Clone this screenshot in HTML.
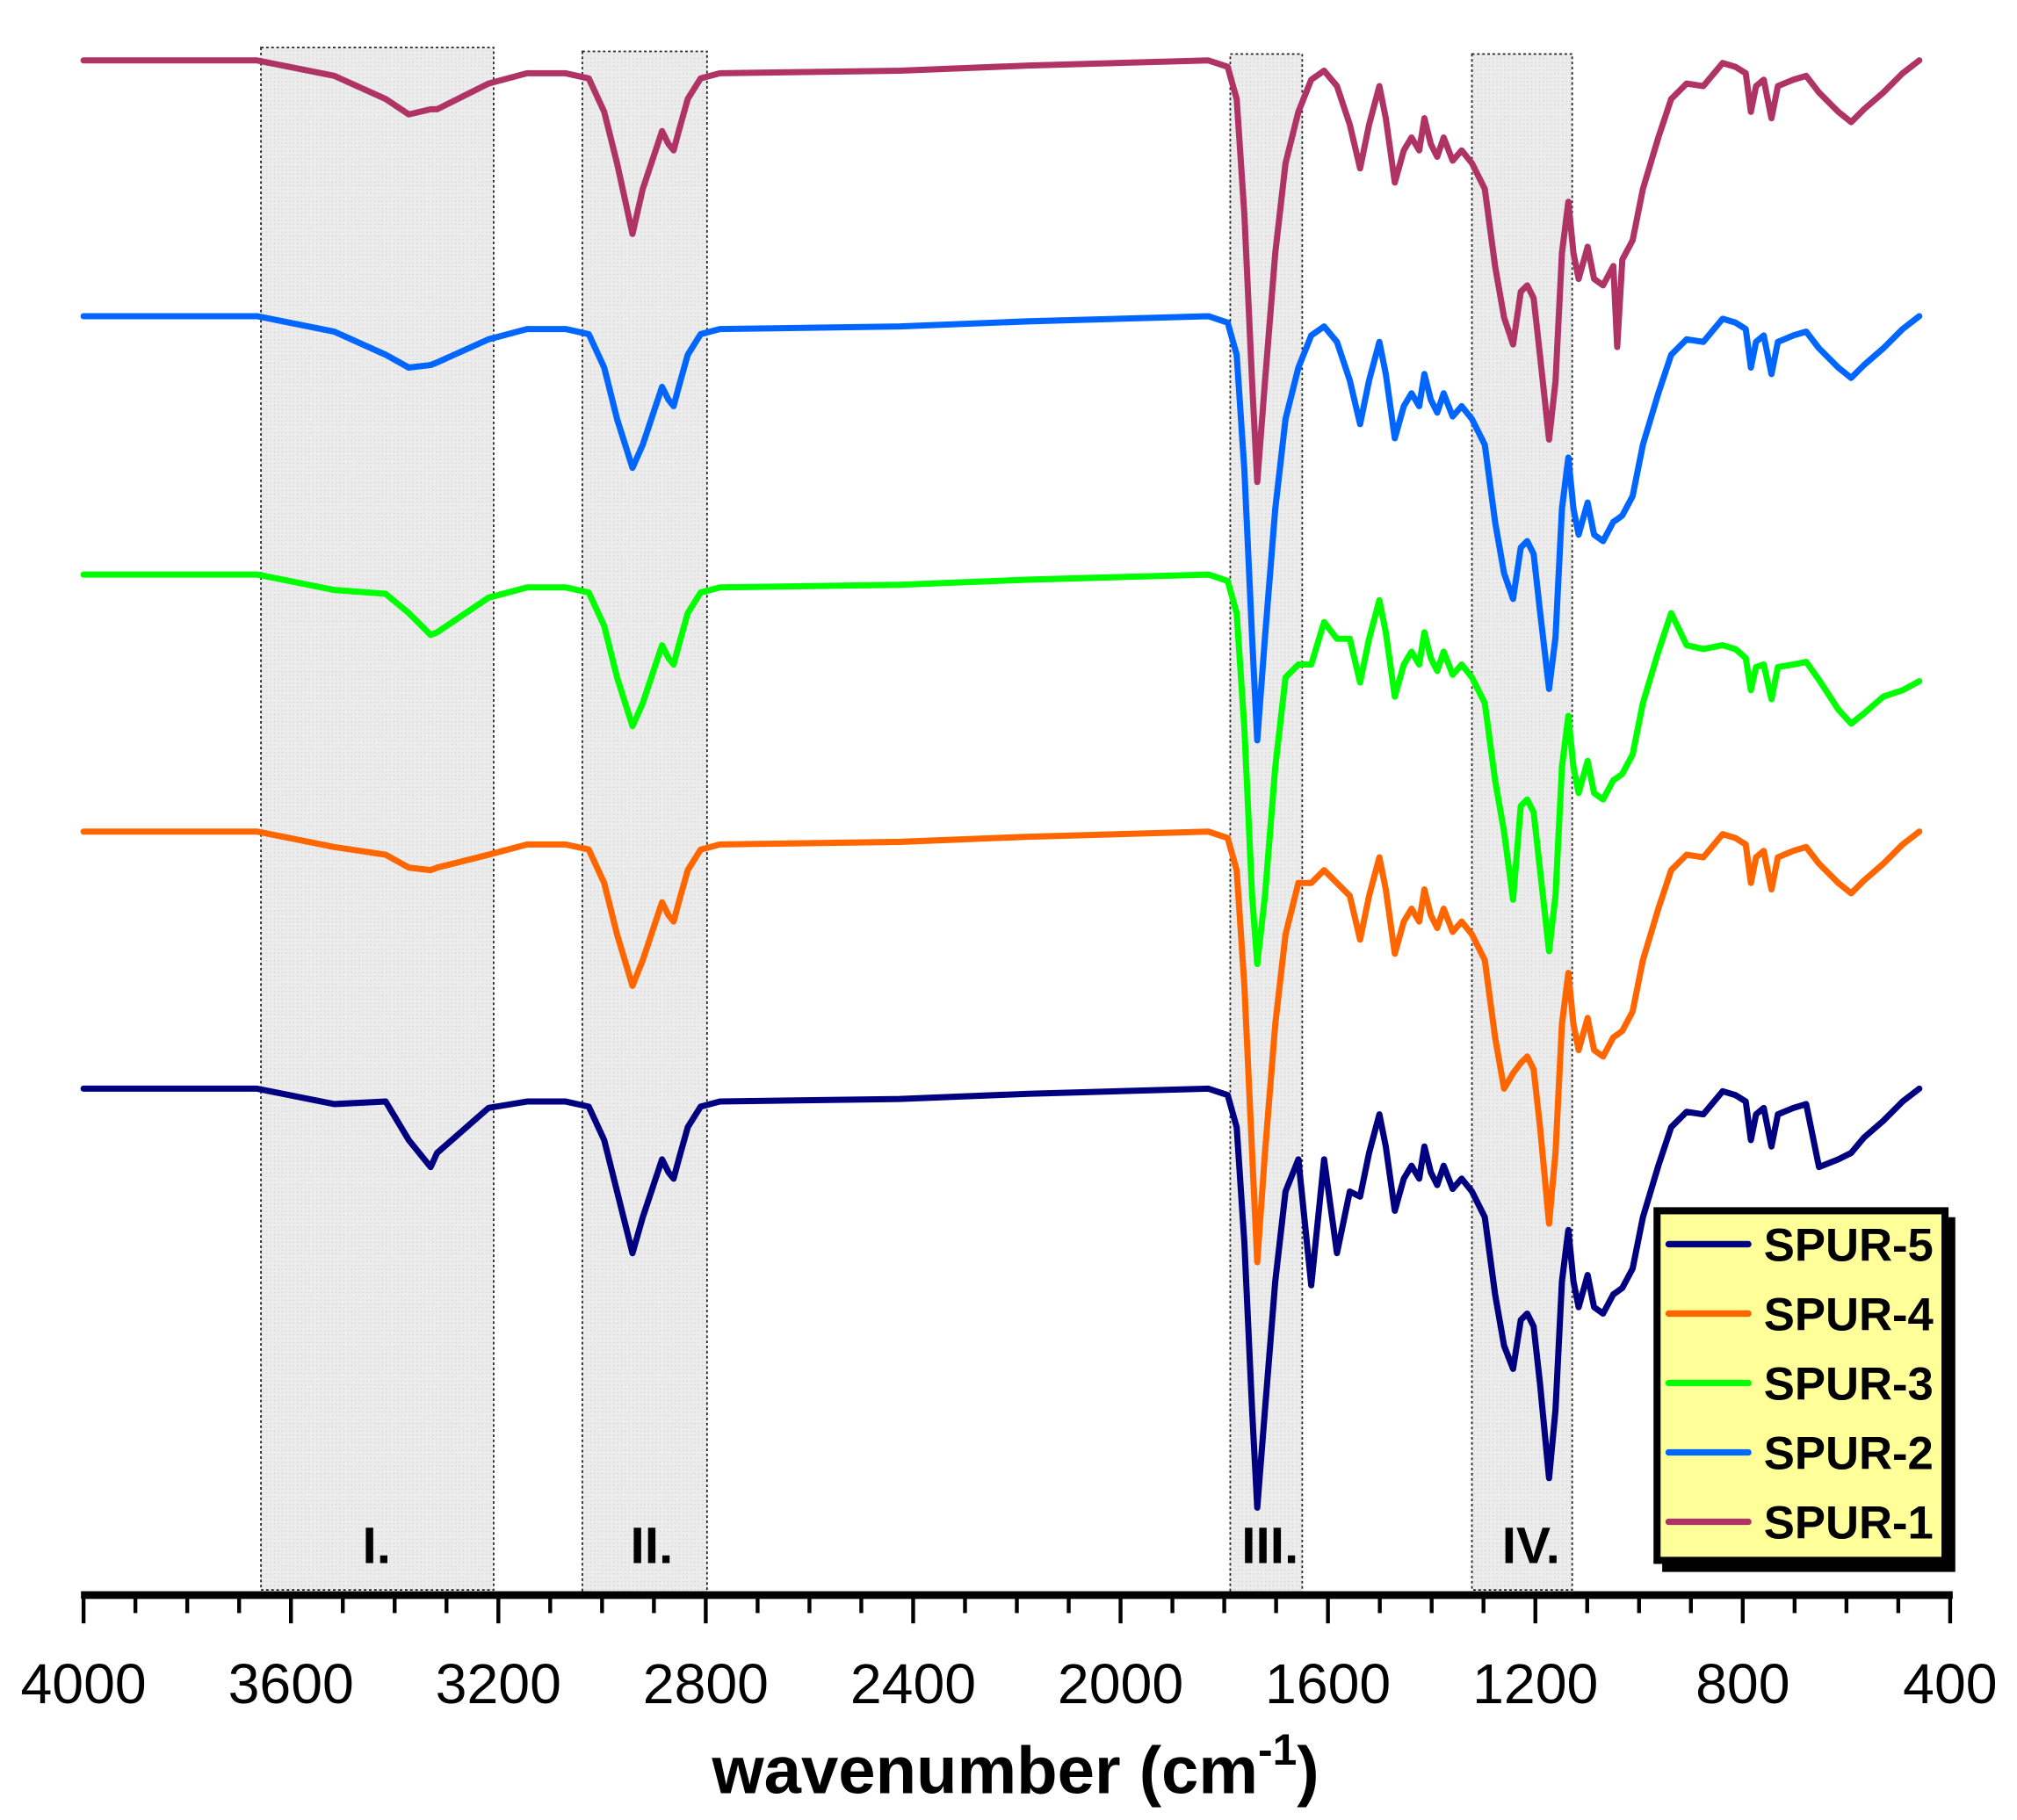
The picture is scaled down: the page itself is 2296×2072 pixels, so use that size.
<!DOCTYPE html>
<html><head><meta charset="utf-8"><style>
html,body{margin:0;padding:0;background:#fff}
svg{display:block}
text{font-family:"Liberation Sans",Arial,sans-serif}
</style></head><body>
<svg id="s" width="2296" height="2072" viewBox="0 0 1569 1416" preserveAspectRatio="none" xmlns="http://www.w3.org/2000/svg">
<defs>
<pattern id="dots" width="3" height="3" patternUnits="userSpaceOnUse"><rect width="3" height="3" fill="#ececec"/><rect width="1" height="1" fill="#d8d8d8"/></pattern>
</defs>
<g stroke="#222" stroke-width="1.2" stroke-dasharray="2,2" fill="url(#dots)">
<rect x="203" y="37" width="181" height="1200"/>
<rect x="453" y="40" width="97" height="1200"/>
<rect x="957" y="42" width="56" height="1198"/>
<rect x="1145" y="42" width="78" height="1195"/>
</g>
<g font-weight="bold" font-size="40" text-anchor="middle" fill="#000">
<text x="293" y="1216">I.</text>
<text x="507" y="1216">II.</text>
<text x="988" y="1216">III.</text>
<text x="1191" y="1216">IV.</text>
</g>
<g id="series" fill="none" stroke-width="4.8" stroke-linejoin="round" stroke-linecap="round"></g>
<!-- legend -->
<rect x="1293" y="947" width="228" height="276" fill="#000"/>
<rect x="1289" y="942" width="224" height="272" fill="#ffff99" stroke="#000" stroke-width="5.5"/>
<g stroke-width="5" stroke-linecap="round">
<line x1="1298" y1="968" x2="1360" y2="968" stroke="#000080"/>
<line x1="1298" y1="1022" x2="1360" y2="1022" stroke="#ff6600"/>
<line x1="1298" y1="1076" x2="1360" y2="1076" stroke="#00ff00"/>
<line x1="1298" y1="1130" x2="1360" y2="1130" stroke="#0066ff"/>
<line x1="1298" y1="1184" x2="1360" y2="1184" stroke="#b03366"/>
</g>
<g font-weight="bold" font-size="36" fill="#000">
<text x="1372" y="981">SPUR-5</text>
<text x="1372" y="1035">SPUR-4</text>
<text x="1372" y="1089">SPUR-3</text>
<text x="1372" y="1143">SPUR-2</text>
<text x="1372" y="1197">SPUR-1</text>
</g>
<!-- axis -->
<rect x="63" y="1238" width="1456" height="6" fill="#000"/>
<g id="ticks" stroke="#000" stroke-width="3"></g>
<g font-size="44" text-anchor="middle" fill="#000" id="tl"></g>
<text x="790" y="1395" font-size="52" font-weight="bold" text-anchor="middle">wavenumber (cm<tspan font-size="34" dy="-22">-1</tspan><tspan dy="22">)</tspan></text>
</svg>
<script>
var NS="http://www.w3.org/2000/svg";
var tg=document.getElementById('ticks'),tl=document.getElementById('tl');
for(var i=0;i<=36;i++){var x=65+i*1452/36;var l=document.createElementNS(NS,'line');
l.setAttribute('x1',x);l.setAttribute('x2',x);l.setAttribute('y1',1240);l.setAttribute('y2',i%4==0?1263:1255);tg.appendChild(l);
if(i%4==0){var t=document.createElementNS(NS,'text');t.setAttribute('x',x);t.setAttribute('y',1325);t.textContent=String(4000-i*100);tl.appendChild(t);}}
var T=[[65,0],[200,0],[260,12],[300,30],[318,40],[335,38],[340,36],[380,18],[410,10],[440,10],[458,14],[470,40],[480,80],[492,118],[500,100],[510,70],[515,55],[520,65],[524,70],[528,55],[535,30],[545,14],[560,10],[700,8],[800,4],[940,0],[955,5],[962,30],[968,120],[974,250],[978,330],[984,250],[992,150],[1000,80],[1010,40],[1020,15],[1030,8],[1040,20],[1050,50],[1058,84],[1065,50],[1073,20],[1078,45],[1085,95],[1092,70],[1098,60],[1104,70],[1108,45],[1113,65],[1118,75],[1123,60],[1130,78],[1137,70],[1145,80],[1155,100],[1163,160],[1170,200],[1177,220],[1183,180],[1188,175],[1193,185],[1198,230],[1205,290],[1210,250],[1215,150],[1220,110],[1224,150],[1228,170],[1235,145],[1240,170],[1247,175],[1255,160],[1258,158],[1262,155],[1270,140],[1278,100],[1290,60],[1300,30],[1312,18],[1325,20],[1340,2],[1350,5],[1358,10],[1362,40],[1366,20],[1372,15],[1378,45],[1383,20],[1395,15],[1405,12],[1415,25],[1430,40],[1440,48],[1450,38],[1465,25],[1480,10],[1493,0]];
var S=[
{c:"#b03366",b:47,o:{318:42,340:38,492:135,978:328,1205:295,1177:221,1258:223}},
{c:"#0066ff",b:246,o:{}},
{c:"#00ff00",b:447,o:{300:15,318:30,335:47,340:45,380:18,492:118,978:303,1010:70,1020:70,1030:37,1040:50,1205:293,1177:253,1312:55,1325:58,1340:55,1350:58,1358:65,1362:90,1366:72,1372:70,1378:97,1383:72,1395:70,1405:68,1415:82,1430:105,1440:116,1450:108,1465:95,1480:90,1493:83}},
{c:"#ff6600",b:647,o:{300:18,318:28,335:30,340:28,492:120,978:335,1020:40,1030:30,1040:40,1205:305,1177:188}},
{c:"#000080",b:847,o:{300:10,318:40,335:61,340:50,380:15,492:128,978:326,1010:55,1020:153,1030:55,1040:128,1050:80,1205:303,1177:218,1415:61,1430:55,1440:50}}];
var g=document.getElementById('series');
S.forEach(function(s){var d="";T.forEach(function(p,i){var v=(s.o[p[0]]!==undefined)?s.o[p[0]]:p[1];d+=(i?"L":"M")+p[0]+","+(s.b+v);});
var pa=document.createElementNS(NS,'path');pa.setAttribute('d',d);pa.setAttribute('stroke',s.c);g.appendChild(pa);});
</script>
</body></html>
